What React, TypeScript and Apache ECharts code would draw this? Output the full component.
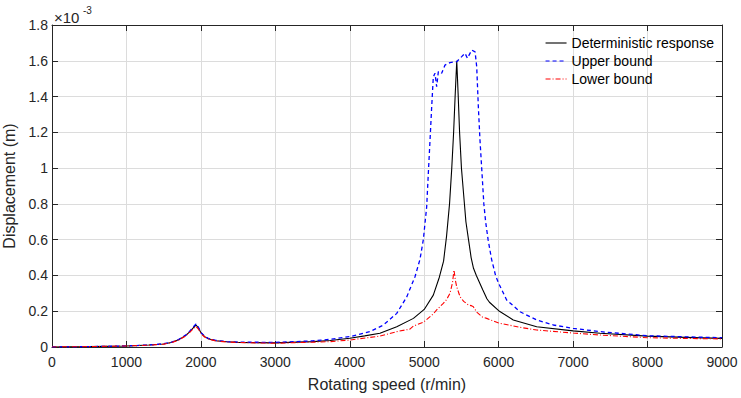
import React, { useEffect, useRef } from "react";
import * as echarts from "echarts";

const xTicks = [0, 9000, 1000];
const yTicks = [0, 1.8, 0.2];

const detSpeed = [0, 500, 1000, 1300, 1500, 1600, 1700, 1800, 1850, 1900, 1935, 1970, 2000, 2050, 2100, 2200, 2350, 2500, 3000, 3500, 3736, 4000, 4200, 4405, 4631, 4855, 5000, 5122, 5203, 5260, 5300, 5340, 5370, 5395, 5415, 5437, 5455, 5475, 5500, 5530, 5560, 5595, 5630, 5662, 5700, 5786, 5842, 5876, 6000, 6196, 6511, 7000, 7362, 8000, 8500, 9000];
const detDisp = [0, 0.002, 0.006, 0.011, 0.017, 0.025, 0.04, 0.066, 0.085, 0.108, 0.123, 0.105, 0.08, 0.058, 0.046, 0.035, 0.029, 0.026, 0.023, 0.03, 0.036, 0.049, 0.062, 0.077, 0.113, 0.16, 0.21, 0.29, 0.39, 0.48, 0.62, 0.8, 1.0, 1.2, 1.4, 1.6, 1.42, 1.2, 1.0, 0.85, 0.7, 0.6, 0.5, 0.44, 0.4, 0.32, 0.27, 0.25, 0.203, 0.151, 0.113, 0.09, 0.077, 0.061, 0.054, 0.048];

const upperSpeed = [0, 500, 1000, 1300, 1500, 1600, 1700, 1800, 1850, 1900, 1935, 1970, 2000, 2050, 2100, 2200, 2350, 2500, 3000, 3500, 3736, 4000, 4272, 4452, 4631, 4765, 4876, 4943, 4988, 5033, 5055, 5078, 5100, 5122, 5145, 5167, 5190, 5234, 5279, 5346, 5436, 5503, 5548, 5580, 5638, 5683, 5705, 5727, 5749, 5772, 5801, 5825, 5858, 5905, 5958, 6000, 6107, 6287, 6511, 6735, 7000, 7362, 8000, 8500, 9000];
const upperDisp = [0, 0.002, 0.006, 0.011, 0.018, 0.026, 0.042, 0.068, 0.088, 0.113, 0.129, 0.108, 0.082, 0.06, 0.048, 0.037, 0.03, 0.027, 0.026, 0.034, 0.043, 0.058, 0.086, 0.123, 0.188, 0.28, 0.393, 0.49, 0.6, 0.784, 0.97, 1.157, 1.34, 1.51, 1.53, 1.455, 1.54, 1.53, 1.576, 1.59, 1.595, 1.623, 1.642, 1.614, 1.66, 1.65, 1.567, 1.343, 1.157, 1.0, 0.8, 0.7, 0.6, 0.49, 0.4, 0.356, 0.263, 0.197, 0.151, 0.123, 0.104, 0.086, 0.063, 0.057, 0.052];

const lowerSpeed = [0, 500, 1000, 1300, 1500, 1600, 1700, 1800, 1850, 1900, 1935, 1970, 2000, 2050, 2100, 2200, 2350, 2500, 3000, 3500, 3736, 4000, 4405, 4631, 4808, 4855, 4988, 5122, 5167, 5256, 5300, 5346, 5380, 5400, 5420, 5436, 5481, 5530, 5593, 5640, 5660, 5705, 5786, 5839, 6000, 6287, 6511, 7000, 7362, 8000, 8500, 9000];
const lowerDisp = [0, 0.002, 0.006, 0.01, 0.016, 0.024, 0.038, 0.063, 0.082, 0.103, 0.115, 0.098, 0.076, 0.056, 0.045, 0.034, 0.028, 0.025, 0.021, 0.027, 0.03, 0.039, 0.061, 0.086, 0.1, 0.117, 0.138, 0.185, 0.207, 0.244, 0.265, 0.3, 0.36, 0.43, 0.37, 0.337, 0.281, 0.255, 0.235, 0.23, 0.225, 0.195, 0.166, 0.16, 0.134, 0.11, 0.095, 0.078, 0.067, 0.052, 0.048, 0.045];

const seriesNames = ["Deterministic response", "Upper bound", "Lower bound"];
const xName = "Rotating speed (r/min)";
const yName = "Displacement (m)";

const pairs = (xs: number[], ys: number[]) => xs.map((x, i) => [x, ys[i]]);

const FONT = "'Liberation Sans', Arial, Helvetica, sans-serif";
const AX = "#262626";

export default function App() {
  const ref = useRef<HTMLDivElement>(null);
  useEffect(() => {
    if (!ref.current) return;
    const chart = echarts.init(ref.current, undefined, { renderer: "svg" });
    const baseX = {
      type: "value" as const,
      min: xTicks[0],
      max: xTicks[1],
      interval: xTicks[2],
    };
    const baseY = {
      type: "value" as const,
      min: yTicks[0],
      max: yTicks[1],
      interval: yTicks[2],
    };
    const tick = { show: true, inside: true, length: 6, lineStyle: { color: AX, width: 1 } };
    chart.setOption({
      animation: false,
      backgroundColor: "#ffffff",
      textStyle: { fontFamily: FONT },
      grid: { left: 52, right: 19, top: 25, bottom: 51, outerBoundsMode: "none" },
      legend: {
        orient: "vertical",
        left: 545,
        top: 36,
        itemWidth: 21,
        itemHeight: 12,
        itemGap: 4,
        padding: 0,
        data: seriesNames,
        itemStyle: { opacity: 0 },
        lineStyle: { width: 1.1 },
        textStyle: { fontSize: 14, color: "#000", fontFamily: FONT },
      },
      graphic: [
        { type: "text", left: 54, top: 10, style: { text: "×10", fontSize: 15, fill: AX, fontFamily: FONT } },
        { type: "text", left: 83, top: 5, style: { text: "-3", fontSize: 10, fill: AX, fontFamily: FONT } },
      ],
      xAxis: [
        {
          ...baseX,
          position: "bottom",
          name: xName,
          nameLocation: "middle",
          nameGap: 29,
          nameTextStyle: { fontSize: 16, color: AX, fontFamily: FONT },
          axisLine: { show: true, lineStyle: { color: AX, width: 1 } },
          axisTick: tick,
          axisLabel: { fontSize: 14, color: AX, margin: 8, fontFamily: FONT, formatter: (v: number) => String(v) },
          splitLine: { show: true, lineStyle: { color: "#dcdcdc", width: 1 } },
        },
        {
          ...baseX,
          position: "top",
          axisLine: { show: true, onZero: false, lineStyle: { color: AX, width: 1 } },
          axisTick: tick,
          axisLabel: { show: false },
          splitLine: { show: false },
        },
      ],
      yAxis: [
        {
          ...baseY,
          position: "left",
          name: yName,
          nameLocation: "middle",
          nameGap: 26,
          nameTextStyle: { fontSize: 16, color: AX, fontFamily: FONT },
          axisLine: { show: true, lineStyle: { color: AX, width: 1 } },
          axisTick: tick,
          axisLabel: { fontSize: 14, color: AX, margin: 4, fontFamily: FONT, formatter: (v: number) => String(Math.round(v * 10) / 10) },
          splitLine: { show: true, lineStyle: { color: "#dcdcdc", width: 1 } },
        },
        {
          ...baseY,
          position: "right",
          axisLine: { show: true, onZero: false, lineStyle: { color: AX, width: 1 } },
          axisTick: tick,
          axisLabel: { show: false },
          splitLine: { show: false },
        },
      ],
      series: [
        {
          name: seriesNames[0],
          type: "line",
          data: pairs(detSpeed, detDisp),
          symbol: "none",
          lineStyle: { color: "#000000", width: 1.1, type: "solid" },
          itemStyle: { color: "#000000" },
          z: 3,
        },
        {
          name: seriesNames[1],
          type: "line",
          data: pairs(upperSpeed, upperDisp),
          symbol: "none",
          lineStyle: { color: "#0000ff", width: 1.3, type: [4, 3] },
          itemStyle: { color: "#0000ff" },
          z: 4,
        },
        {
          name: seriesNames[2],
          type: "line",
          data: pairs(lowerSpeed, lowerDisp),
          symbol: "none",
          lineStyle: { color: "#ff0000", width: 1.1, type: [5, 2, 1, 2] },
          itemStyle: { color: "#ff0000" },
          z: 5,
        },
      ],
    });
    return () => chart.dispose();
  }, []);
  return <div ref={ref} style={{ width: 741, height: 398, position: "absolute", left: 0, top: 0 }} />;
}
